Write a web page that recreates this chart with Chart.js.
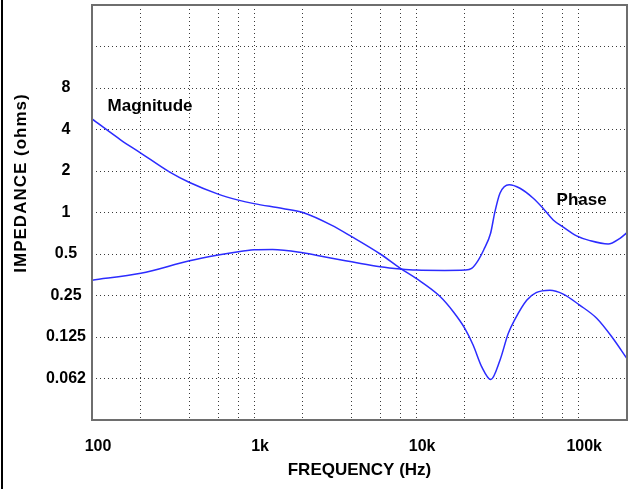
<!DOCTYPE html>
<html>
<head>
<meta charset="utf-8">
<script src="https://cdn.jsdelivr.net/npm/chart.js@4.4.1/dist/chart.umd.min.js"></script>
<style>
    html, body { margin: 0; padding: 0; background: #fff; }
    #wrap { position: relative; width: 629px; height: 489px; }
    #wrap::before { content: ''; position: absolute; left: 1px; top: 0; width: 2px; height: 489px; background: #000; }
</style>
</head>
<body>
<div id="wrap"><canvas id="impedanceChart" width="629" height="489"></canvas></div>
<script>
// Curve (Hz, ohms)
const magFreq = [100, 150, 200, 300, 400, 600, 800, 1000, 1500, 2000, 3000, 4000, 6000, 8000, 10000,
    14000, 17000, 20000, 22500, 25400, 28900, 32900, 37000, 40700, 48100, 55000, 66900, 80800,
    102000, 130000, 164000, 200000];
const magValues = [4.77, 3.37, 2.70, 1.97, 1.65, 1.36, 1.23, 1.16, 1.07, 1.0, 0.81, 0.668, 0.5, 0.394, 0.333,
    0.247, 0.19, 0.144, 0.109, 0.076, 0.0614, 0.0848, 0.1325, 0.168, 0.231, 0.262, 0.273, 0.256,
    0.213, 0.171, 0.122, 0.087];

const phaseFreq = [100, 200, 400, 600, 800, 1000, 1300, 2000, 2800, 4000, 6000, 8000, 10000, 15000,
    20000, 22000, 24200, 26100, 28800, 30500, 32900, 37500, 43700, 52800, 60600, 70100, 80000,
    97800, 118000, 153000, 181000, 200000];
const phaseValues = [0.323, 0.362, 0.447, 0.492, 0.52, 0.536, 0.54, 0.511, 0.473, 0.439, 0.404, 0.389, 0.382, 0.38,
    0.382, 0.393, 0.452, 0.535, 0.707, 0.99, 1.38, 1.59, 1.50, 1.27, 1.075, 0.883, 0.79,
    0.676, 0.625, 0.591, 0.65, 0.714];

// Grid lines and tick labels
const xGridValues = [100, 200, 400, 600, 800, 1000, 2000, 4000, 6000, 8000, 10000,
    20000, 40000, 60000, 80000, 100000, 200000];
const xTickValues = [100, 1000, 10000, 100000];
const xTickLabels = ['100', '1k', '10k', '100k'];

const yGridValues = [0.03125, 0.0625, 0.125, 0.25, 0.5, 1, 2, 4, 8, 16, 32];
const yTickValues = [0.0625, 0.125, 0.25, 0.5, 1, 2, 4, 8];
const yTickLabels = ['0.062', '0.125', '0.25', '0.5', '1', '2', '4', '8'];

const FONT = "'Liberation Sans', Arial, sans-serif";
const LINE_COLOR = '#2c2cff';
const GRID_COLOR = '#3a3a3a';

const toPoints = (xs, ys) => xs.map((x, i) => ({ x: x, y: ys[i] }));

const labelFor = (value, values, labels) => {
    const i = values.findIndex(v => Math.abs(v - value) / v < 1e-6);
    return i >= 0 ? labels[i] : '';
};

// Frame, axis titles and curve names
const decorations = {
    id: 'decorations',
    afterDraw(chart) {
        const { ctx, chartArea: a, scales } = chart;
        ctx.save();
        ctx.strokeStyle = '#6e6e6e';
        ctx.lineWidth = 2;
        ctx.strokeRect(a.left, a.top, a.right - a.left, a.bottom - a.top);

        ctx.fillStyle = '#000';
        ctx.font = 'bold 17px ' + FONT;
        ctx.textAlign = 'center';
        ctx.textBaseline = 'middle';
        ctx.fillText('FREQUENCY (Hz)', (a.left + a.right) / 2, 470);

        ctx.save();
        ctx.translate(21, 183);
        ctx.rotate(-Math.PI / 2);
        ctx.letterSpacing = '1px';
        ctx.fillText('IMPEDANCE (ohms)', 0, 0);
        ctx.restore();

        ctx.font = 'bold 17px ' + FONT;
        ctx.fillText('Magnitude', scales.x.getPixelForValue(228), scales.y.getPixelForValue(5.9));
        ctx.fillText('Phase', scales.x.getPixelForValue(105000), scales.y.getPixelForValue(1.23));
        ctx.restore();
    }
};

const ctx = document.getElementById('impedanceChart').getContext('2d');

new Chart(ctx, {
    type: 'line',
    data: {
        datasets: [{
            label: 'Magnitude',
            data: toPoints(magFreq, magValues),
            borderColor: LINE_COLOR,
            borderWidth: 1.5,
            pointRadius: 0,
            cubicInterpolationMode: 'monotone'
        }, {
            label: 'Phase',
            data: toPoints(phaseFreq, phaseValues),
            borderColor: LINE_COLOR,
            borderWidth: 1.5,
            pointRadius: 0,
            cubicInterpolationMode: 'monotone'
        }]
    },
    options: {
        responsive: false,
        animation: false,
        layout: {
            padding: { top: 5, right: 2, left: 0, bottom: 0 }
        },
        plugins: {
            legend: { display: false },
            tooltip: { enabled: false }
        },
        scales: {
            x: {
                type: 'logarithmic',
                min: 100,
                max: 200000,
                afterBuildTicks: scale => {
                    scale.ticks = xGridValues.map(v => ({ value: v }));
                },
                afterFit: scale => {
                    scale.height = 69;
                    scale.paddingLeft = 0;
                    scale.paddingRight = 0;
                },
                grid: {
                    color: c => (c.tick && (c.tick.value === 100 || c.tick.value === 200000)) ? 'transparent' : GRID_COLOR,
                    lineWidth: 1,
                    drawTicks: false
                },
                border: { display: false, dash: [1, 3] },
                ticks: {
                    autoSkip: false,
                    maxRotation: 0,
                    padding: 17,
                    labelOffset: 6,
                    color: '#000',
                    font: { family: FONT, size: 16, weight: 'bold' },
                    callback: value => labelFor(value, xTickValues, xTickLabels)
                }
            },
            y: {
                type: 'logarithmic',
                min: 0.03125,
                max: 32,
                afterBuildTicks: scale => {
                    scale.ticks = yGridValues.map(v => ({ value: v }));
                },
                afterFit: scale => {
                    scale.width = 92;
                    scale.paddingTop = 0;
                    scale.paddingBottom = 0;
                },
                grid: {
                    color: c => (c.tick && (c.tick.value === 0.03125 || c.tick.value === 32)) ? 'transparent' : GRID_COLOR,
                    lineWidth: 1,
                    drawTicks: false
                },
                border: { display: false, dash: [1, 3] },
                ticks: {
                    autoSkip: false,
                    crossAlign: 'center',
                    padding: 6,
                    color: '#000',
                    font: { family: FONT, size: 16, weight: 'bold' },
                    callback: value => labelFor(value, yTickValues, yTickLabels)
                }
            }
        }
    },
    plugins: [decorations]
});
</script>
</body>
</html>
